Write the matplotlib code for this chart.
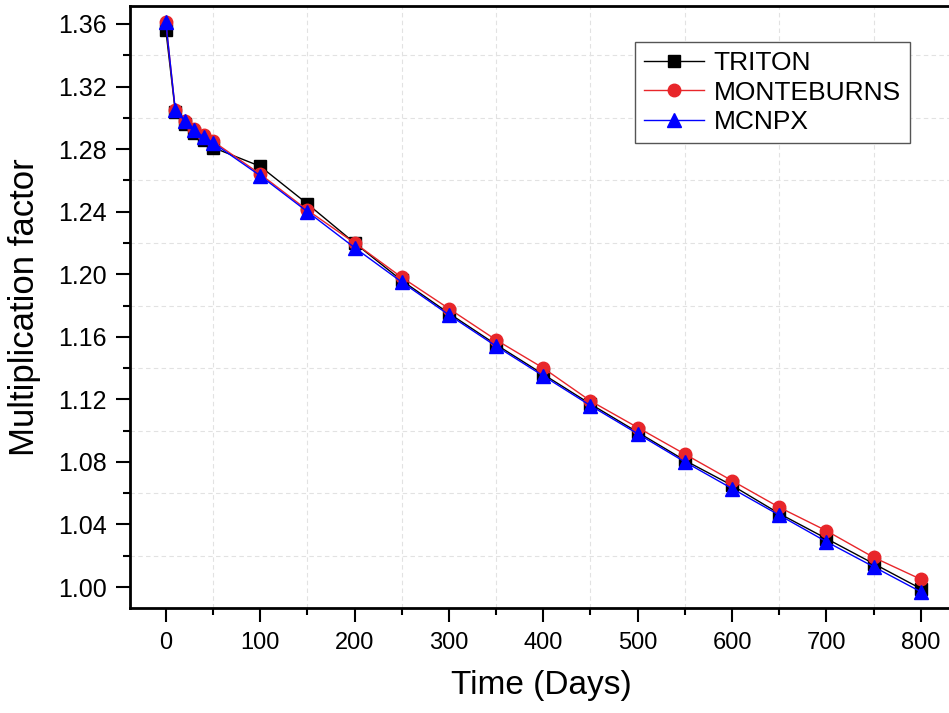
import numpy as np
import matplotlib
matplotlib.use("Agg")
import matplotlib.pyplot as plt
from matplotlib.ticker import MultipleLocator, FormatStrFormatter

days = [0, 10, 20, 30, 40, 50, 100, 150, 200, 250, 300, 350, 400,
        450, 500, 550, 600, 650, 700, 750, 800]
triton = [1.356, 1.304, 1.296, 1.290, 1.286, 1.281, 1.269, 1.245, 1.220,
          1.196, 1.175, 1.155, 1.136, 1.117, 1.099, 1.081, 1.065, 1.047,
          1.031, 1.015, 0.999]
monteburns = [1.361, 1.305, 1.298, 1.293, 1.289, 1.285, 1.264, 1.241, 1.220,
              1.198, 1.178, 1.158, 1.140, 1.119, 1.102, 1.085, 1.068, 1.051,
              1.036, 1.019, 1.005]
mcnpx = [1.361, 1.305, 1.298, 1.292, 1.288, 1.284, 1.263, 1.240, 1.217,
         1.195, 1.174, 1.154, 1.135, 1.116, 1.098, 1.080, 1.063, 1.046,
         1.029, 1.013, 0.997]

plt.rcParams['font.family'] = ['Liberation Sans', 'DejaVu Sans']

fig = plt.figure(figsize=(9.49, 7.13), dpi=100)
ax = fig.add_axes([130/949, 1 - 608/713, 1.005 - 130/949, (608 - 6)/713])

ax.plot(days, triton, color='black', lw=1, marker='s', ms=8, label='TRITON')
ax.plot(days, monteburns, color='#e8262a', lw=1, marker='o', ms=9, label='MONTEBURNS')
ax.plot(days, mcnpx, color='blue', lw=1, marker='^', ms=10, label='MCNPX')

ax.set_xlim(-38, 835)
ax.set_ylim(0.9866, 1.3715)
ax.xaxis.set_major_locator(MultipleLocator(100))
ax.xaxis.set_minor_locator(MultipleLocator(50))
ax.yaxis.set_major_locator(MultipleLocator(0.04))
ax.yaxis.set_minor_locator(MultipleLocator(0.02))
ax.yaxis.set_major_formatter(FormatStrFormatter('%.2f'))

# gridlines only sit on the minor ticks
ax.grid(which='minor', color='#e2e2e2', ls=(0, (4, 3)), lw=0.8)
ax.grid(which='major', visible=False)
ax.set_axisbelow(True)

for s in ax.spines.values():
    s.set_linewidth(2)
ax.tick_params(which='major', direction='out', length=10, width=1.5, pad=7)
ax.tick_params(which='minor', direction='out', length=5, width=1.5)
ax.tick_params(axis='y', labelsize=18)
ax.tick_params(axis='x', labelsize=17)

ax.set_xlabel('Time (Days)', fontsize=24, labelpad=12)
ax.set_ylabel('Multiplication factor', fontsize=25, labelpad=12)

leg = ax.legend(loc='upper right', bbox_to_anchor=(0.947, 0.94), borderaxespad=0,
                fontsize=19, fancybox=False, edgecolor='#555555', framealpha=1,
                handlelength=2.3, borderpad=0.35, labelspacing=0.2, handletextpad=0.35)
leg.get_frame().set_linewidth(1)

fig.savefig('out.png', dpi=100)
